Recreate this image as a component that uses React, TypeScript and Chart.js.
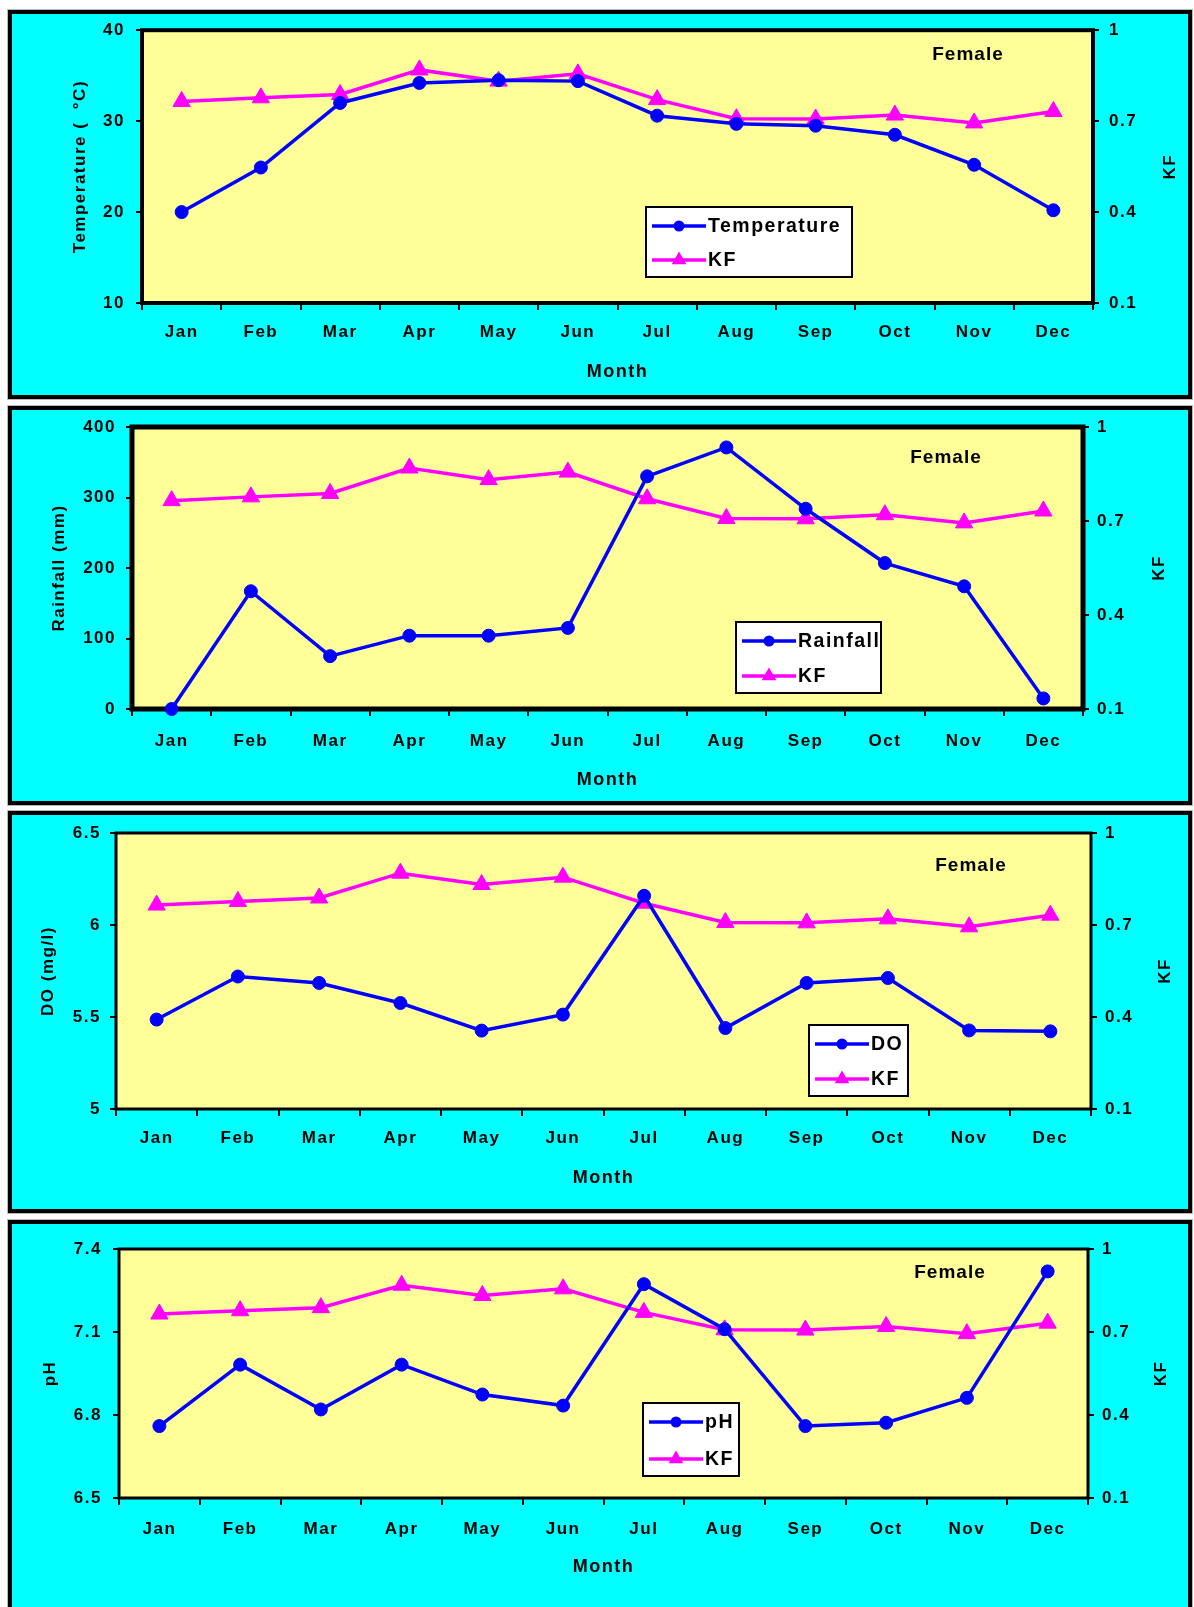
import React, { useEffect, useRef } from 'react';
import { Chart, registerables } from 'chart.js';

Chart.register(...registerables);

// ---------- data ----------
const MONTHS = ['Jan', 'Feb', 'Mar', 'Apr', 'May', 'Jun', 'Jul', 'Aug', 'Sep', 'Oct', 'Nov', 'Dec'];
const KF = [0.765, 0.777, 0.788, 0.869, 0.832, 0.856, 0.771, 0.708, 0.707, 0.72, 0.694, 0.732];
const TEMPERATURE = [20.0, 24.9, 32.0, 34.2, 34.5, 34.4, 30.6, 29.7, 29.5, 28.5, 25.2, 20.2];
const RAINFALL = [0, 167, 75, 104, 104, 115, 330, 371, 284, 207, 174, 15];
const DO_VALUES = [5.486, 5.72, 5.685, 5.576, 5.426, 5.513, 6.159, 5.44, 5.685, 5.712, 5.427, 5.422];
const PH = [6.76, 6.982, 6.82, 6.982, 6.874, 6.834, 7.273, 7.11, 6.76, 6.772, 6.862, 7.319];

const KF_TICKS = [0.1, 0.4, 0.7, 1];
const TEMP_TICKS = [10, 20, 30, 40];
const RAIN_TICKS = [0, 100, 200, 300, 400];
const DO_TICKS = [5, 5.5, 6, 6.5];
const PH_TICKS = [6.5, 6.8, 7.1, 7.4];

// ---------- layout ----------
const FAMILY = '"Liberation Sans", Arial, sans-serif';
const BLUE = '#0000FF';
const MAGENTA = '#FF00FF';

type Box = { x: number; y: number; w: number; h: number };
type Plot = { l: number; r: number; t: number; b: number };
type PanelSpec = {
  label: string;
  values: number[];
  ticks: number[];
  yTitle: string;
  box: Box;
  plot: Plot;
  plotBorder: number;
  yTitleX: number;
  kfTitleX: number;
  monthY: number;
  female: { x: number; y: number };
  legend: Box;
  padL: number;
  padR: number;
  padX: number;
};

const PANELS: PanelSpec[] = [
  {
    label: 'Temperature', values: TEMPERATURE, ticks: TEMP_TICKS, yTitle: 'Temperature (  \u00B0C)',
    box: { x: 7, y: 9, w: 1186, h: 391 }, plot: { l: 142, r: 1093, t: 28, b: 303 }, plotBorder: 4,
    yTitleX: 80, kfTitleX: 1170, monthY: 372, female: { x: 968, y: 55 },
    legend: { x: 646, y: 207, w: 206, h: 70 }, padL: 11, padR: 10, padX: 12,
  },
  {
    label: 'Rainfall', values: RAINFALL, ticks: RAIN_TICKS, yTitle: 'Rainfall (mm)',
    box: { x: 7, y: 405, w: 1186, h: 401 }, plot: { l: 132, r: 1083, t: 427, b: 709 }, plotBorder: 5,
    yTitleX: 59, kfTitleX: 1159, monthY: 780, female: { x: 946, y: 458 },
    legend: { x: 736, y: 622, w: 145, h: 71 }, padL: 10, padR: 8, padX: 15,
  },
  {
    label: 'DO', values: DO_VALUES, ticks: DO_TICKS, yTitle: 'DO (mg/l)',
    box: { x: 7, y: 810, w: 1186, h: 404 }, plot: { l: 116, r: 1091, t: 833, b: 1109 }, plotBorder: 3,
    yTitleX: 48, kfTitleX: 1165, monthY: 1178, female: { x: 971, y: 866 },
    legend: { x: 809, y: 1025, w: 99, h: 71 }, padL: 9, padR: 8, padX: 12,
  },
  {
    label: 'pH', values: PH, ticks: PH_TICKS, yTitle: 'pH',
    box: { x: 7, y: 1219, w: 1186, h: 400 }, plot: { l: 119, r: 1088, t: 1249, b: 1498 }, plotBorder: 3,
    yTitleX: 50, kfTitleX: 1161, monthY: 1567, female: { x: 950, y: 1273 },
    legend: { x: 643, y: 1403, w: 96, h: 73 }, padL: 11, padR: 8, padX: 14,
  },
];

function drawText(ctx: CanvasRenderingContext2D, s: string, x: number, y: number, size: number,
  align: CanvasTextAlign = 'center', rot = 0, spacing = '1.5px') {
  ctx.save();
  ctx.translate(x, y);
  if (rot) ctx.rotate(rot);
  (ctx as any).letterSpacing = spacing;
  ctx.font = `bold ${size}px ${FAMILY}`;
  ctx.fillStyle = '#000';
  ctx.textAlign = align;
  ctx.textBaseline = 'middle';
  ctx.fillText(s, 0, 0);
  ctx.restore();
}

function drawMarker(ctx: CanvasRenderingContext2D, style: string, x: number, y: number, r: number, color: string) {
  ctx.save();
  ctx.fillStyle = color;
  ctx.beginPath();
  if (style === 'triangle') {
    ctx.moveTo(x, y - r);
    ctx.lineTo(x + r * 0.866, y + r * 0.5);
    ctx.lineTo(x - r * 0.866, y + r * 0.5);
    ctx.closePath();
  } else {
    ctx.arc(x, y, r, 0, Math.PI * 2);
  }
  ctx.fill();
  ctx.restore();
}

function makePlugin(p: PanelSpec) {
  return {
    id: 'panelDecor',
    beforeDraw(chart: any) {
      const { ctx, width, height, chartArea: a } = chart;
      ctx.save();
      ctx.fillStyle = '#b8b8b8';
      ctx.fillRect(0, 0, width, height);
      ctx.fillStyle = '#000';
      ctx.fillRect(1, 1, width - 2, height - 2);
      ctx.fillStyle = '#00FFFF';
      ctx.fillRect(5, 5, width - 10, height - 10);
      ctx.fillStyle = '#FFFF99';
      ctx.fillRect(a.left, a.top, a.right - a.left, a.bottom - a.top);
      ctx.restore();
      (ctx as any).letterSpacing = '1.5px';
    },
    beforeDatasetsDraw(chart: any) {
      const { ctx, chartArea: a } = chart;
      ctx.save();
      ctx.strokeStyle = '#000';
      ctx.lineWidth = p.plotBorder;
      ctx.strokeRect(a.left, a.top, a.right - a.left, a.bottom - a.top);
      ctx.restore();
    },
    afterDraw(chart: any) {
      const { ctx, chartArea: a } = chart;
      const ox = p.box.x;
      const oy = p.box.y;
      const midY = (a.top + a.bottom) / 2;
      const midX = (a.left + a.right) / 2;
      drawText(ctx, p.yTitle, p.yTitleX - ox, midY, 17, 'center', -Math.PI / 2);
      drawText(ctx, 'KF', p.kfTitleX - ox, midY, 17, 'center', -Math.PI / 2);
      drawText(ctx, 'Month', midX, p.monthY - oy, 18, 'center', 0);
      drawText(ctx, 'Female', p.female.x - ox, p.female.y - oy, 19, 'center', 0, '1px');

      // legend
      const lg = p.legend;
      const lx = lg.x - ox;
      const ly = lg.y - oy;
      ctx.save();
      ctx.fillStyle = '#fff';
      ctx.fillRect(lx, ly, lg.w, lg.h);
      ctx.strokeStyle = '#000';
      ctx.lineWidth = 2;
      ctx.strokeRect(lx, ly, lg.w, lg.h);
      chart.data.datasets.forEach((ds: any, i: number) => {
        const ry = ly + (i === 0 ? 19 : lg.h - 17);
        ctx.strokeStyle = ds.borderColor;
        ctx.lineWidth = 3.5;
        ctx.beginPath();
        ctx.moveTo(lx + 6, ry);
        ctx.lineTo(lx + 60, ry);
        ctx.stroke();
        drawMarker(ctx, ds.pointStyle, lx + 33, ry, ds.pointStyle === 'triangle' ? 8.5 : 5.5, ds.borderColor);
        drawText(ctx, ds.label, lx + 62, ry + 1, 19.5, 'left', 0, '1.5px');
      });
      ctx.restore();
    },
  };
}

function buildConfig(p: PanelSpec): any {
  const tickFont = { family: FAMILY, size: 17, weight: 'bold' as const };
  const yMin = p.ticks[0];
  const yMax = p.ticks[p.ticks.length - 1];
  return {
    type: 'line',
    data: {
      labels: MONTHS,
      datasets: [
        {
          label: p.label, data: p.values, yAxisID: 'y',
          borderColor: BLUE, backgroundColor: BLUE, borderWidth: 3.5,
          pointStyle: 'circle', pointRadius: 6.5, pointBackgroundColor: BLUE, pointBorderColor: BLUE,
          pointBorderWidth: 1, tension: 0, clip: false,
        },
        {
          label: 'KF', data: KF, yAxisID: 'y1',
          borderColor: MAGENTA, backgroundColor: MAGENTA, borderWidth: 3.5,
          pointStyle: 'triangle', pointRadius: 10, pointBackgroundColor: MAGENTA, pointBorderColor: MAGENTA,
          pointBorderWidth: 1, tension: 0, clip: false,
        },
      ],
    },
    options: {
      animation: false,
      responsive: false,
      maintainAspectRatio: false,
      events: [],
      layout: { padding: { top: p.plot.t - p.box.y, left: 0, right: 0, bottom: 0 } },
      plugins: { legend: { display: false }, tooltip: { enabled: false }, title: { display: false } },
      scales: {
        x: {
          type: 'category',
          offset: true,
          grid: { offset: true, drawOnChartArea: false, color: '#000', lineWidth: 2, tickLength: 7, tickWidth: 2 },
          border: { display: false },
          ticks: { color: '#000', font: tickFont, padding: p.padX, autoSkip: false, maxRotation: 0, minRotation: 0 },
          afterFit: (s: any) => { s.height = p.box.y + p.box.h - p.plot.b; },
        },
        y: {
          position: 'left',
          min: yMin,
          max: yMax,
          afterBuildTicks: (s: any) => { s.ticks = p.ticks.map((v) => ({ value: v })); },
          grid: { drawOnChartArea: false, color: '#000', lineWidth: 2, tickLength: 6 },
          border: { display: false },
          ticks: { color: '#000', font: tickFont, padding: p.padL, callback: (v: any) => String(v) },
          afterFit: (s: any) => { s.width = p.plot.l - p.box.x; },
        },
        y1: {
          position: 'right',
          min: KF_TICKS[0],
          max: KF_TICKS[KF_TICKS.length - 1],
          afterBuildTicks: (s: any) => { s.ticks = KF_TICKS.map((v) => ({ value: v })); },
          grid: { drawOnChartArea: false, color: '#000', lineWidth: 2, tickLength: 6 },
          border: { display: false },
          ticks: { color: '#000', font: tickFont, padding: p.padR, callback: (v: any) => String(v) },
          afterFit: (s: any) => { s.width = p.box.x + p.box.w - p.plot.r; },
        },
      },
    },
    plugins: [makePlugin(p)],
  };
}

function Panel({ spec }: { spec: PanelSpec }) {
  const ref = useRef<HTMLCanvasElement>(null);
  useEffect(() => {
    const chart = new Chart(ref.current as HTMLCanvasElement, buildConfig(spec));
    return () => chart.destroy();
  }, [spec]);
  return (
    <canvas
      ref={ref}
      width={spec.box.w}
      height={spec.box.h}
      style={{ position: 'absolute', left: spec.box.x, top: spec.box.y, width: spec.box.w, height: spec.box.h }}
    />
  );
}

export default function App() {
  return (
    <div style={{ position: 'absolute', left: 0, top: 0, width: 1194, height: 1607, background: '#fff', overflow: 'hidden' }}>
      {PANELS.map((p, i) => (
        <Panel key={i} spec={p} />
      ))}
    </div>
  );
}
